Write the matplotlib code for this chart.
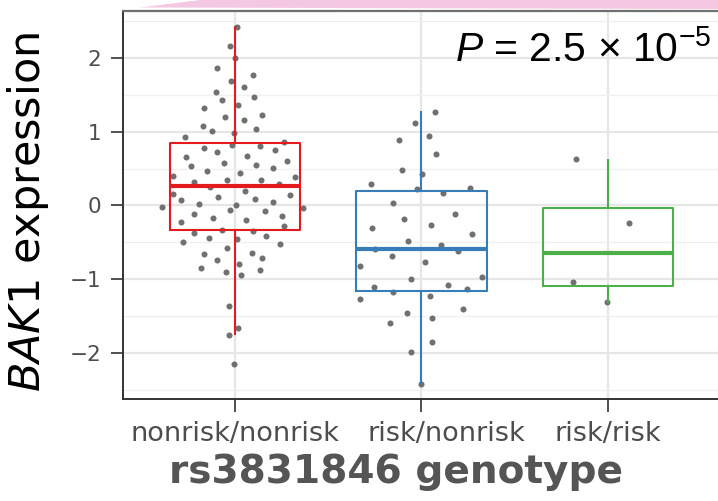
import matplotlib
matplotlib.use("Agg")
import matplotlib.pyplot as plt
from matplotlib.patches import Polygon
from matplotlib.ticker import MultipleLocator
import matplotlib.transforms as mtransforms
import numpy as np

# ---------------- data ----------------
categories = ["nonrisk/nonrisk", "risk/nonrisk", "risk/risk"]
box_colors = ["#E41A1C", "#377EB8", "#4DAF4A"]

# box statistics
q1 = [-0.33, -1.15, -1.09]
med = [0.26, -0.59, -0.64]
q3 = [0.85, 0.20, -0.03]
whis_lo = [-1.74, -2.40, -1.31]
whis_hi = [2.41, 1.27, 0.62]

# jittered points: horizontal jitter offset and value
red_dx = [0.013, -0.029, 0.001, -0.094, 0.096, -0.020, 0.051, -0.101, -0.067, 0.101,
          0.019, -0.165, 0.146, -0.053, 0.051, -0.171, -0.122, 0.115, -0.003, -0.267,
          -0.015, 0.265, -0.165, 0.135, -0.095, 0.217, -0.263, 0.065, -0.058, 0.114,
          -0.235, 0.280, 0.205, -0.149, -0.331, 0.028, -0.040, 0.321, 0.140, -0.219,
          -0.133, 0.235, -0.330, 0.055, -0.290, -0.090, 0.107, 0.296, -0.192, 0.206,
          -0.392, 0.008, -0.029, 0.162, 0.365, -0.220, -0.118, 0.251, -0.290, 0.060,
          0.265, -0.067, -0.220, 0.096, -0.138, 0.167, 0.013, -0.276, 0.242, -0.040,
          -0.164, 0.091, -0.094, 0.147, 0.023, -0.181, -0.047, 0.033, 0.134, -0.031,
          0.019, -0.031, -0.004]
red_y = [2.42, 2.16, 1.99, 1.86, 1.76, 1.68, 1.60, 1.54, 1.42, 1.47,
         1.36, 1.32, 1.23, 1.19, 1.15, 1.08, 1.01, 1.04, 0.98, 0.92,
         0.82, 0.86, 0.78, 0.80, 0.72, 0.75, 0.65, 0.67, 0.58, 0.55,
         0.53, 0.60, 0.51, 0.47, 0.40, 0.44, 0.35, 0.38, 0.34, 0.32,
         0.25, 0.29, 0.16, 0.19, 0.07, 0.12, 0.09, 0.14, 0.02, 0.05,
         -0.02, 0.00, -0.06, -0.07, -0.04, -0.11, -0.17, -0.14, -0.22, -0.20,
         -0.28, -0.33, -0.37, -0.35, -0.44, -0.41, -0.45, -0.50, -0.52, -0.57,
         -0.66, -0.64, -0.74, -0.71, -0.79, -0.85, -0.90, -0.94, -0.87, -1.36,
         -1.66, -1.75, -2.14]

blue_dx = [0.073, -0.035, 0.041, -0.121, 0.079, -0.103, 0.004, -0.271, -0.023, 0.260,
           0.118, -0.152, 0.181, -0.093, -0.263, 0.052, 0.270, -0.070, 0.107, -0.250,
           0.197, -0.159, -0.332, 0.018, -0.054, 0.324, 0.143, -0.255, 0.245, -0.153,
           -0.330, 0.045, 0.225, -0.075, 0.057, -0.168, 0.059, -0.055, -0.005]
blue_y = [1.27, 1.11, 0.94, 0.88, 0.70, 0.48, 0.42, 0.29, 0.22, 0.24,
          0.17, 0.03, -0.12, -0.18, -0.30, -0.26, -0.39, -0.48, -0.54, -0.59,
          -0.62, -0.68, -0.82, -0.76, -1.00, -0.97, -1.07, -1.10, -1.13, -1.17,
          -1.26, -1.22, -1.40, -1.46, -1.52, -1.59, -1.85, -1.98, -2.41]

green_dx = [-0.174, 0.113, -0.186, -0.004]
green_y = [0.63, -0.24, -1.03, -1.31]

y_ticks = [-2, -1, 0, 1, 2]
p_label = r"$P$ = 2.5 × $10^{-5}$"
y_label = r"$BAK1$ expression"
x_label = "rs3831846 genotype"

# ---------------- figure ----------------
plt.rcParams["mathtext.rm"] = "Liberation Sans"
plt.rcParams["mathtext.it"] = "Liberation Sans:italic"
plt.rcParams["mathtext.sf"] = "Liberation Sans"
plt.rcParams["font.family"] = ["DejaVu Sans"]

W, H = 718, 501
fig = plt.figure(figsize=(W / 100, H / 100), dpi=100)
ax_l, ax_r, ax_t, ax_b = 123, 719.9, 11, 398.5
ax = fig.add_axes([ax_l / W, 1 - ax_b / H, (ax_r - ax_l) / W, (ax_b - ax_t) / H])

ax.set_xlim(0.4, 3.6)
ax.set_ylim(-2.61, 2.63)

# grid
ax.set_axisbelow(True)
ax.yaxis.set_minor_locator(MultipleLocator(0.5))
ax.grid(which="major", color="#e6e6e6", lw=1.6)
ax.grid(which="minor", axis="y", color="#f0f0f0", lw=1.0)
ax.tick_params(which="minor", left=False, bottom=False)

# points
groups = [(red_dx, red_y), (blue_dx, blue_y), (green_dx, green_y)]
for i, (dx, yv) in enumerate(groups):
    xs = (i + 1) + np.asarray(dx)
    ax.scatter(xs, yv, s=19, color="#707070", linewidths=0, zorder=2)

# boxes
stats = []
for i in range(3):
    stats.append(dict(med=med[i], q1=q1[i], q3=q3[i], whislo=whis_lo[i],
                      whishi=whis_hi[i], fliers=[]))
for i in range(3):
    c = box_colors[i]
    ax.bxp([stats[i]], positions=[i + 1], widths=0.7, showfliers=False,
           showcaps=False, patch_artist=False,
           boxprops=dict(color=c, lw=1.5),
           whiskerprops=dict(color=c, lw=1.5),
           medianprops=dict(color=c, lw=3.0, solid_capstyle="butt"),
           manage_ticks=False, zorder=3)

# axes styling
ax.set_xticks([1, 2, 3])
ax.set_xticklabels(categories)
ax.set_yticks(y_ticks)
ax.set_yticklabels([str(t).replace("-", "\u2212") for t in y_ticks])
ax.tick_params(axis="x", which="major", length=9, width=1.2, color="#333333",
               labelsize=19.5, labelcolor="#4d4d4d", pad=7)
ax.tick_params(axis="y", which="major", length=8.5, width=1.2, color="#333333",
               labelsize=15.5, labelcolor="#4d4d4d", pad=7)
for side in ["left", "bottom"]:
    ax.spines[side].set_color("#333333")
    ax.spines[side].set_linewidth(1.4)
ax.spines["top"].set_color("#707070")
ax.spines["top"].set_linewidth(1.6)
ax.spines["right"].set_color("#707070")

# the middle category label sits a little right of its tick in the reference
mid_label = ax.get_xticklabels()[1]
mid_label.set_transform(mid_label.get_transform() +
                        mtransforms.ScaledTranslation(0.25, 0, fig.dpi_scale_trans))

ax.set_ylabel(y_label, fontsize=31, family="DejaVu Sans",
              math_fontfamily="dejavusans", color="black")
ax.yaxis.set_label_coords((28 - ax_l) / (ax_r - ax_l), (ax_b - 212) / (ax_b - ax_t))
ax.yaxis.label.set_verticalalignment("center")
ax.yaxis.label.set_horizontalalignment("center")

ax.set_xlabel(x_label, fontsize=28.2, fontweight="bold", color="#555555",
              family="DejaVu Sans")
ax.xaxis.set_label_coords((395.7 - ax_l) / (ax_r - ax_l), (ax_b - 482.7) / (ax_b - ax_t))
ax.xaxis.label.set_verticalalignment("baseline")
ax.xaxis.label.set_horizontalalignment("center")

# P value annotation
fig.text(455 / W, 1 - 61.7 / H, p_label, fontsize=29.4, family="Liberation Sans",
         math_fontfamily="custom", color="black", ha="left", va="baseline")

# pink fragment of the panel above (cropped)
poly = Polygon([(140 / W, 1 - 7.5 / H), (200 / W, 1.0), (1.0, 1.0), (1.0, 1 - 9 / H)],
               closed=True, transform=fig.transFigure, facecolor="#f4c8e2",
               edgecolor="none")
fig.add_artist(poly)

fig.savefig("out.png", dpi=100)
